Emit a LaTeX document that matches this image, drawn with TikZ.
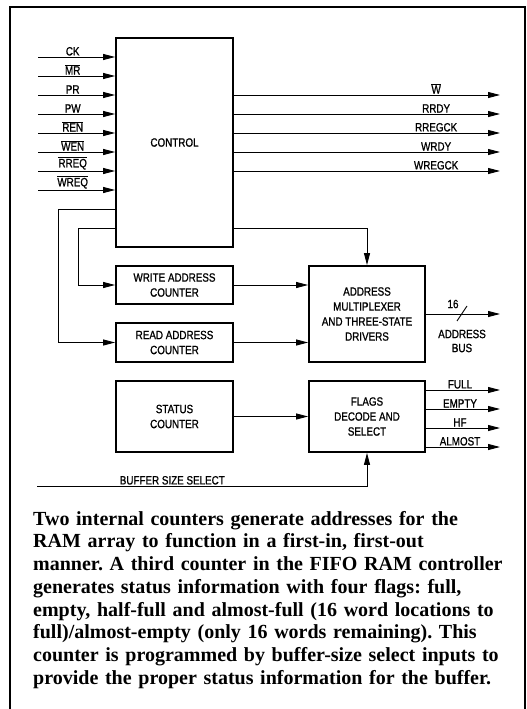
\documentclass[tikz,border=0pt]{standalone}
\usepackage{fontspec}
\setmainfont{Liberation Serif}
\newfontfamily\labelfont[FakeStretch=0.82,FakeBold=1]{Liberation Sans}
\usetikzlibrary{arrows.meta,positioning}
\newcommand{\ovl}[1]{$\overline{\mbox{#1}}$}
\frenchspacing
\tikzset{
  blk/.style={draw, line width=1.8pt, fill=white, align=center, inner sep=0pt,
    font=\labelfont\fontsize{12}{15}\selectfont},
  sig/.style={line width=0.9pt, -{Triangle[length=12pt,width=6pt]}},
  wire/.style={line width=0.9pt},
  lbl/.style={font=\labelfont\fontsize{12}{14}\selectfont, inner sep=1pt},
}
\begin{document}
\begin{tikzpicture}[x=1pt,y=-1pt]
\useasboundingbox (0,0) rectangle (527,709);

\def \OutX{500}
\draw[line width=1.8pt] (10,709) -- (10,7) -- (525,7) -- (525,709);

\node[blk, minimum width=117pt, minimum height=209pt] (control) at (174.5,142.5) {CONTROL};
\node[blk, minimum width=117pt, minimum height=38pt] (wrcnt) at (174.5,285) {WRITE ADDRESS\\COUNTER};
\node[blk, minimum width=117pt, minimum height=39pt] (rdcnt) at (174.5,342.5) {READ ADDRESS\\COUNTER};
\node[blk, minimum width=116pt, minimum height=96pt] (mux) at (367,314) {ADDRESS\\MULTIPLEXER\\AND THREE-STATE\\DRIVERS};
\node[blk, minimum width=117pt, minimum height=71pt] (status) at (174.5,416.5) {STATUS\\COUNTER};
\node[blk, minimum width=116pt, minimum height=71pt] (flags) at (367,416.5) {FLAGS\\DECODE AND\\SELECT};

\foreach \name [count=\i] in {CK,\ovl{MR},PR,PW,\ovl{REN},\ovl{WEN},\ovl{RREQ},\ovl{WREQ}} {
  \coordinate (in\i) at (38,38+19*\i);
  \draw[sig] (in\i) -- (in\i -| control.west) node[lbl, pos=0.45, above] {\name};
}
\foreach \name [count=\i] in {\ovl{W},RRDY,RREGCK,WRDY,WREGCK} {
  \coordinate (out\i) at (\OutX,76+19*\i);
  \draw[sig] (out\i -| control.east) -- (out\i) node[lbl, pos=0.76, above] {\name};
}

\coordinate (rdtap) at (58,209);
\coordinate (wrtap) at (78,228);
\draw[sig] (rdtap -| control.west) -- (rdtap) |- (rdcnt.west);
\draw[sig] (wrtap -| control.west) -- (wrtap) |- (wrcnt.west);
\draw[sig] (wrtap -| control.east) -| (mux.north);
\draw[sig] (wrcnt.east) -- (wrcnt.east -| mux.west);
\draw[sig] (rdcnt.east) -- (rdcnt.east -| mux.west);

\coordinate (bus) at (\OutX,314);
\draw[sig] (mux.east) -- (bus);
\draw[wire] (457,321) -- (467,306);
\node[lbl] (buswidth) at (453,304) {16};
\node[lbl, align=center] (busname) at (462,341) {ADDRESS\\BUS};

\draw[sig] (status.east) -- (flags.west);
\foreach \name [count=\i] in {FULL,EMPTY,HF,ALMOST} {
  \coordinate (fl\i) at (\OutX,371+19*\i);
  \draw[sig] (fl\i -| flags.east) -- (fl\i) node[lbl, pos=0.46, above] {\name};
}

\coordinate (bss) at (37,486);
\draw[sig] (bss) -| node[lbl, above, pos=0.205] {BUFFER SIZE SELECT} (flags.south);

\node[anchor=north west, align=left, inner sep=0pt, text width=485pt,
  font=\bfseries\fontsize{20}{22.7}\selectfont] (caption) at (33,511)
  {Two internal counters generate addresses for the\\
   RAM array to function in a first-in, first-out\\
   manner. A third counter in the FIFO RAM controller\\
   generates status information with four flags: full,\\
   empty, half-full and almost-full (16 word locations to\\
   full)/almost-empty (only 16 words remaining). This\\
   counter is programmed by buffer-size select inputs to\\
   provide the proper status information for the buffer.};

\end{tikzpicture}
\end{document}
